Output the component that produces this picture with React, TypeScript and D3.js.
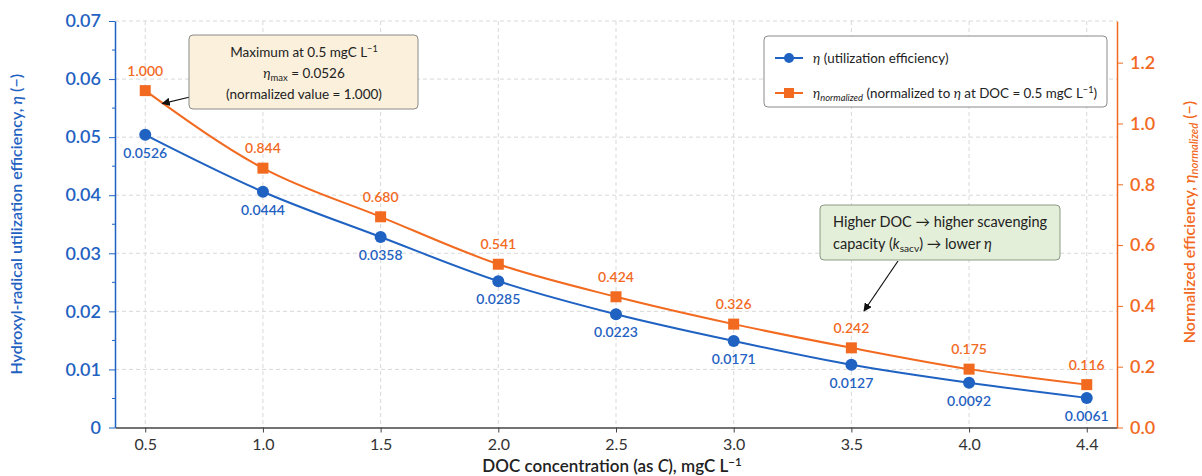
import React, { useRef, useEffect } from "react";
import * as d3 from "d3";

// DOC concentration categories (mgC/L)
const docLevels = ["0.5", "1.0", "1.5", "2.0", "2.5", "3.0", "3.5", "4.0", "4.4"];
// plotted values
const etaValues = [0.0504, 0.0406, 0.0328, 0.0252, 0.0195, 0.0149, 0.0108, 0.0077, 0.0051];
const etaNormValues = [1.108, 0.853, 0.693, 0.537, 0.43, 0.34, 0.262, 0.192, 0.141];
// printed point labels
const etaLabels = ["0.0526", "0.0444", "0.0358", "0.0285", "0.0223", "0.0171", "0.0127", "0.0092", "0.0061"];
const etaNormLabels = ["1.000", "0.844", "0.680", "0.541", "0.424", "0.326", "0.242", "0.175", "0.116"];
// axis ticks
const leftTicks = [0, 0.01, 0.02, 0.03, 0.04, 0.05, 0.06, 0.07];
const rightTicks = [0, 0.2, 0.4, 0.6, 0.8, 1.0, 1.2];

const BLUE = "#1f62c2";
const ORANGE = "#f26a1f";
const FONT = "Lato, 'Open Sans', sans-serif";

type Seg = { t: string; i?: boolean; sub?: boolean; sup?: boolean };

function rich(sel: any, segs: Seg[], size: number) {
    segs.forEach((s) => {
        const ts = sel.append("tspan").text(s.t);
        if (s.i) ts.attr("font-style", "italic");
        if (s.sub) ts.attr("baseline-shift", -Math.round(size * 0.2)).attr("font-size", size * 0.7);
        if (s.sup) ts.attr("baseline-shift", Math.round(size * 0.38)).attr("font-size", size * 0.68);
    });
}

function Chart() {
    const svgRef = useRef<SVGSVGElement>(null);

    useEffect(() => {
        const svg = d3.select(svgRef.current);
        svg.selectAll("*").remove();

        const left = 115, right = 1117, top = 21, bottom = 427.5;

        const x = d3.scalePoint<string>().domain(docLevels).range([left, right]).padding(0.257);
        const y = d3.scaleLinear().domain([0, 0.07]).range([bottom, top]);
        const y2 = d3.scaleLinear().domain([0, 1.337]).range([bottom, top]);

        svg.append("defs").append("marker")
            .attr("id", "arrow")
            .attr("viewBox", "0 0 10 10")
            .attr("refX", 9).attr("refY", 5)
            .attr("markerWidth", 7).attr("markerHeight", 7)
            .attr("orient", "auto-start-reverse")
            .append("path").attr("d", "M0,0 L10,5 L0,10 z").attr("fill", "#111");

        // grid
        const grid = svg.append("g").attr("stroke", "#d9d9d9").attr("stroke-dasharray", "4,3").attr("stroke-width", 1);
        grid.selectAll(".gx").data(docLevels).join("line")
            .attr("x1", (d) => x(d)!).attr("x2", (d) => x(d)!)
            .attr("y1", top).attr("y2", bottom);
        grid.selectAll(".gy").data(leftTicks.filter((d) => d > 0)).join("line")
            .attr("x1", left).attr("x2", right)
            .attr("y1", (d) => y(d)).attr("y2", (d) => y(d));

        // bottom axis
        const gx = svg.append("g").attr("transform", `translate(0,${bottom})`)
            .call(d3.axisBottom(x).tickSize(5).tickSizeOuter(0).tickPadding(6));
        gx.select(".domain").attr("stroke", "#444").attr("stroke-width", 1.5);
        gx.selectAll(".tick line").attr("stroke", "#444");
        gx.selectAll("text").attr("font-family", FONT).attr("font-size", 16).attr("fill", "#333");

        // left axis
        const gy = svg.append("g").attr("transform", `translate(${left},0)`)
            .call(d3.axisLeft(y).tickValues(leftTicks).tickSize(6).tickSizeOuter(0).tickPadding(8)
                .tickFormat((d) => (+d === 0 ? "0" : d3.format(".2f")(+d))));
        gy.select(".domain").attr("stroke", BLUE).attr("stroke-width", 1.5);
        gy.selectAll(".tick line").attr("stroke", BLUE);
        gy.selectAll("text").attr("font-family", FONT).attr("font-size", 18).attr("font-weight", 600).attr("fill", BLUE);
        gy.selectAll(".minor").data(d3.range(0.005, 0.07, 0.01)).join("line")
            .attr("x1", -3).attr("x2", 0)
            .attr("y1", (d) => y(d)).attr("y2", (d) => y(d))
            .attr("stroke", BLUE);

        // right axis
        const gy2 = svg.append("g").attr("transform", `translate(${right},0)`)
            .call(d3.axisRight(y2).tickValues(rightTicks).tickSize(6).tickSizeOuter(0).tickPadding(7)
                .tickFormat(d3.format(".1f")));
        gy2.select(".domain").attr("stroke", ORANGE).attr("stroke-width", 1.5);
        gy2.selectAll(".tick line").attr("stroke", ORANGE);
        gy2.selectAll("text").attr("font-family", FONT).attr("font-size", 18).attr("font-weight", 600).attr("fill", ORANGE);

        // axis titles
        const tl = svg.append("text")
            .attr("transform", `translate(22,${(top + bottom) / 2}) rotate(-90)`)
            .attr("text-anchor", "middle").attr("font-family", FONT).attr("font-size", 16)
            .attr("font-weight", 600).attr("fill", BLUE);
        rich(tl, [{ t: "Hydroxyl-radical utilization efficiency, " }, { t: "η", i: true }, { t: " (−)" }], 16);

        const tr = svg.append("text")
            .attr("transform", `translate(1189,222) rotate(-90)`)
            .attr("text-anchor", "middle").attr("dy", "0.35em").attr("font-family", FONT).attr("font-size", 16)
            .attr("font-weight", 600).attr("fill", ORANGE);
        rich(tr, [{ t: "Normalized efficiency, " }, { t: "η", i: true }, { t: "normalized", i: true, sub: true }, { t: " (−)" }], 16);

        const tb = svg.append("text")
            .attr("x", 612).attr("y", 472)
            .attr("text-anchor", "middle").attr("font-family", FONT).attr("font-size", 17)
            .attr("font-weight", 600).attr("fill", "#222");
        rich(tb, [{ t: "DOC concentration (as " }, { t: "C", i: true }, { t: "), mgC L" }, { t: "−1", sup: true }], 17);

        // lines
        const lineEta = d3.line<number>().x((_, i) => x(docLevels[i])!).y((d) => y(d)).curve(d3.curveMonotoneX);
        const lineNorm = d3.line<number>().x((_, i) => x(docLevels[i])!).y((d) => y2(d)).curve(d3.curveMonotoneX);

        svg.append("path").datum(etaValues).attr("d", lineEta)
            .attr("fill", "none").attr("stroke", BLUE).attr("stroke-width", 2);
        svg.append("path").datum(etaNormValues).attr("d", lineNorm)
            .attr("fill", "none").attr("stroke", ORANGE).attr("stroke-width", 2);

        svg.append("g").selectAll("circle").data(etaValues).join("circle")
            .attr("cx", (_, i) => x(docLevels[i])!).attr("cy", (d) => y(d))
            .attr("r", 6).attr("fill", BLUE);
        svg.append("g").selectAll("rect").data(etaNormValues).join("rect")
            .attr("x", (_, i) => x(docLevels[i])! - 5.5).attr("y", (d) => y2(d) - 5.5)
            .attr("width", 11).attr("height", 11).attr("fill", ORANGE);

        // point labels
        svg.append("g").selectAll("text").data(etaValues).join("text")
            .attr("x", (_, i) => x(docLevels[i])!).attr("y", (d) => y(d) + 18)
            .attr("dy", "0.35em").attr("text-anchor", "middle")
            .attr("font-family", FONT).attr("font-size", 14).attr("font-weight", 600).attr("fill", BLUE)
            .text((_, i) => etaLabels[i]);
        svg.append("g").selectAll("text").data(etaNormValues).join("text")
            .attr("x", (_, i) => x(docLevels[i])!).attr("y", (d) => y2(d) - 20)
            .attr("dy", "0.35em").attr("text-anchor", "middle")
            .attr("font-family", FONT).attr("font-size", 14).attr("font-weight", 600).attr("fill", ORANGE)
            .text((_, i) => etaNormLabels[i]);

        // annotation: maximum
        svg.append("line")
            .attr("x1", 190).attr("y1", 97).attr("x2", x(docLevels[0])! + 17).attr("y2", y2(etaNormValues[0]) + 13)
            .attr("stroke", "#111").attr("stroke-width", 1.2).attr("marker-end", "url(#arrow)");
        svg.append("rect")
            .attr("x", 189).attr("y", 35).attr("width", 229).attr("height", 74).attr("rx", 4)
            .attr("fill", "#fbf0dc").attr("stroke", "#8a8a8a").attr("stroke-width", 1);
        const ann = svg.append("g").attr("font-family", FONT).attr("font-size", 13.5).attr("fill", "#222")
            .attr("text-anchor", "middle");
        rich(ann.append("text").attr("x", 304).attr("y", 57), [{ t: "Maximum at 0.5 mgC L" }, { t: "−1", sup: true }], 13.5);
        rich(ann.append("text").attr("x", 304).attr("y", 78),
            [{ t: "η", i: true }, { t: "max", sub: true }, { t: " = 0.0526" }], 13.5);
        rich(ann.append("text").attr("x", 304).attr("y", 99), [{ t: "(normalized value = 1.000)" }], 13.5);

        // annotation: DOC effect
        svg.append("line")
            .attr("x1", 898).attr("y1", 261).attr("x2", 864).attr("y2", 311)
            .attr("stroke", "#111").attr("stroke-width", 1.2).attr("marker-end", "url(#arrow)");
        svg.append("rect")
            .attr("x", 820).attr("y", 205).attr("width", 240).attr("height", 55).attr("rx", 4)
            .attr("fill", "#e4efd9").attr("stroke", "#8c9a84").attr("stroke-width", 1);
        const ann2 = svg.append("g").attr("font-family", FONT).attr("font-size", 14.5).attr("fill", "#222");
        rich(ann2.append("text").attr("x", 833).attr("y", 227), [{ t: "Higher DOC → higher scavenging" }], 14.5);
        rich(ann2.append("text").attr("x", 833).attr("y", 249),
            [{ t: "capacity (" }, { t: "k", i: true }, { t: "sacv", sub: true }, { t: ") → lower " }, { t: "η", i: true }], 14.5);

        // legend
        const lg = svg.append("g");
        lg.append("rect").attr("x", 764).attr("y", 36).attr("width", 343).attr("height", 71).attr("rx", 4)
            .attr("fill", "#fff").attr("stroke", "#8a8a8a");
        lg.append("line").attr("x1", 775).attr("x2", 803).attr("y1", 58).attr("y2", 58)
            .attr("stroke", BLUE).attr("stroke-width", 2);
        lg.append("circle").attr("cx", 789).attr("cy", 58).attr("r", 5).attr("fill", BLUE);
        lg.append("line").attr("x1", 775).attr("x2", 803).attr("y1", 93).attr("y2", 93)
            .attr("stroke", ORANGE).attr("stroke-width", 2);
        lg.append("rect").attr("x", 784).attr("y", 88).attr("width", 10).attr("height", 10).attr("fill", ORANGE);
        const lt = lg.append("g").attr("font-family", FONT).attr("font-size", 13.4).attr("fill", "#222");
        rich(lt.append("text").attr("x", 813).attr("y", 58).attr("dy", "0.35em"),
            [{ t: "η", i: true }, { t: " (utilization efficiency)" }], 13.4);
        rich(lt.append("text").attr("x", 813).attr("y", 93).attr("dy", "0.35em"),
            [{ t: "η", i: true }, { t: "normalized", i: true, sub: true }, { t: " (normalized to " }, { t: "η", i: true },
                { t: " at DOC = 0.5 mgC L" }, { t: "−1", sup: true }, { t: ")" }], 13.4);
    }, []);

    return (
        <svg ref={svgRef} width={1202} height={476}
             style={{ position: "absolute", left: 0, top: 0, display: "block", background: "#fff" }} />
    );
}

export default function App() {
    return <Chart />;
}
